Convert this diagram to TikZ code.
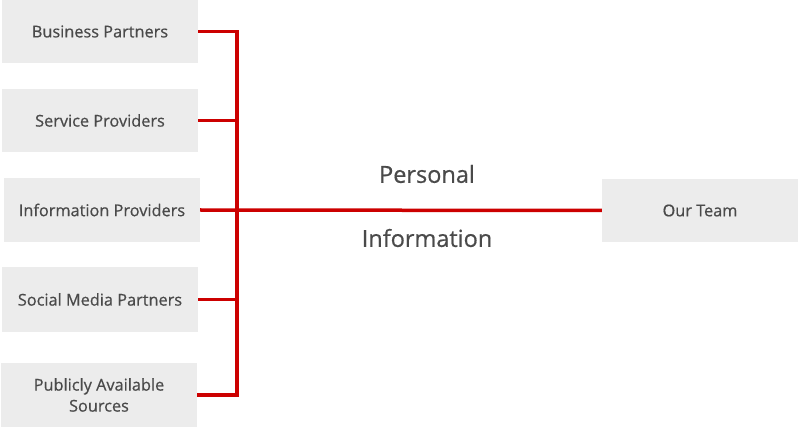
\documentclass[tikz,border=0pt]{standalone}
\usepackage{fontspec}
\setmainfont{Open Sans}
\newfontfamily\medfont{Open Sans}[UprightFeatures={FakeBold=0.6}]
\definecolor{boxfill}{HTML}{ECECEC}
\definecolor{txt}{HTML}{4A4A4A}
\definecolor{redline}{HTML}{CC0000}
\begin{document}
\begin{tikzpicture}[x=1pt,y=-1pt,
  srcbox/.style={fill=boxfill,draw=none,text=txt,font=\medfont\fontsize{16.3}{21}\selectfont,align=center,inner sep=0pt},
  conn/.style={draw=redline,line width=3.5pt},
  bigtxt/.style={text=txt,font=\medfont\fontsize{23.5}{28}\selectfont,inner sep=0pt}]
\useasboundingbox (0,0) rectangle (799,427);
\node[srcbox,minimum width=196pt,minimum height=63pt] (bp) at (100,31.5) {Business Partners};
\node[srcbox,minimum width=196pt,minimum height=63pt] (sp) at (100,120.5) {Service Providers};
\node[srcbox,minimum width=196pt,minimum height=64pt] (ip) at (102,210) {Information Providers};
\node[srcbox,minimum width=196pt,minimum height=65pt] (sm) at (100,299.5) {Social Media Partners};
\node[srcbox,minimum width=196pt,minimum height=64pt] (pa) at (99,395) {Publicly Available\\Sources};
\node[srcbox,minimum width=196pt,minimum height=63pt] (ot) at (700,210.5) {Our Team};
\coordinate (top) at (237,31.5);
\coordinate (bot) at (237,395);
\draw[conn] (bp.east |- top) -- (top) -- (bot) -- (pa.east |- bot);
\draw[conn] (sp.east) -- (sp.east -| top);
\draw[conn] (sm.east) -- (sm.east -| top);
\draw[conn] (ip.east) -- (ot.west);
\node[bigtxt] (pers) at (427,174) {Personal};
\node[bigtxt] (info) at (427,238) {Information};
\end{tikzpicture}
\end{document}
